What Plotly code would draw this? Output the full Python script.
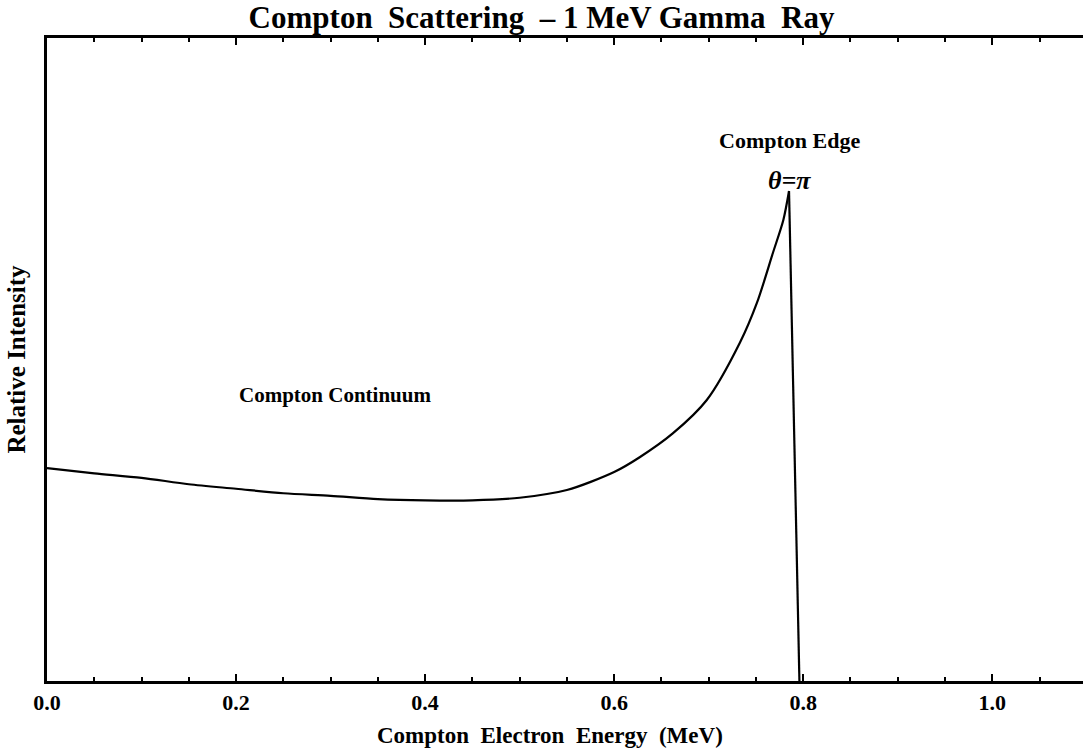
import plotly.graph_objects as go

# Compton electron energy (MeV) and relative intensity
energy = [0.0, 0.05, 0.1, 0.15, 0.2, 0.25, 0.3, 0.35, 0.4, 0.45, 0.5, 0.55,
          0.6, 0.627, 0.662, 0.698, 0.733, 0.751, 0.768, 0.779, 0.785]
intensity = [0.331, 0.323, 0.316, 0.306, 0.299, 0.292, 0.288, 0.283, 0.281, 0.281,
             0.285, 0.297, 0.325, 0.348, 0.385, 0.437, 0.526, 0.588, 0.666, 0.717,
             0.762]

# the Compton edge: sharp drop from the peak to zero
edge_energy = [0.785, 0.796]
edge_intensity = [0.762, 0.0]

tick_vals = [0.0, 0.2, 0.4, 0.6, 0.8, 1.0]
tick_text = ["0.0", "0.2", "0.4", "0.6", "0.8", "1.0"]

serif = "Liberation Serif"
nb = "\u00a0"

fig = go.Figure()

fig.add_trace(go.Scatter(
    x=energy,
    y=intensity,
    mode="lines",
    line=dict(color="black", width=2.2, shape="spline", smoothing=0.8),
    hoverinfo="skip",
    showlegend=False,
))
fig.add_trace(go.Scatter(
    x=edge_energy,
    y=edge_intensity,
    mode="lines",
    line=dict(color="black", width=2.2),
    hoverinfo="skip",
    showlegend=False,
))

# text labels on the plot
fig.add_annotation(x=0.786, y=0.841, text="Compton Edge", showarrow=False,
                   font=dict(family=serif, size=22, color="black", weight="bold"))
fig.add_annotation(x=0.786, y=0.779, text="<i>θ=π</i>", showarrow=False,
                   font=dict(family=serif, size=26, color="black", weight="bold"))
fig.add_annotation(x=0.305, y=0.445, text="Compton Continuum", showarrow=False,
                   font=dict(family=serif, size=21, color="black", weight="bold"))

# x axis title, placed slightly left of the plot centre as in the original
fig.add_annotation(xref="paper", yref="paper", x=0.4855, y=-0.084,
                   xanchor="center", yanchor="middle", showarrow=False,
                   text=f"Compton{nb}{nb}Electron{nb}{nb}Energy{nb}{nb}(MeV)",
                   font=dict(family=serif, size=23, color="black", weight="bold"))

fig.update_layout(
    width=1083,
    height=753,
    margin=dict(l=47, r=0, t=38, b=72),
    plot_bgcolor="white",
    paper_bgcolor="white",
    title=dict(
        text=f"Compton{nb}{nb}Scattering{nb}{nb}– 1 MeV Gamma{nb}{nb}Ray",
        font=dict(family=serif, size=31, color="black", weight="bold"),
        x=0.5, xanchor="center", xref="container",
        y=0.977, yanchor="middle",
    ),
    xaxis=dict(
        range=[0, 1.096],
        automargin=False,
        tickmode="array",
        tickvals=tick_vals,
        ticktext=tick_text,
        ticks="inside",
        ticklen=7,
        tickwidth=2,
        tickcolor="black",
        minor=dict(dtick=0.05, ticks="inside", ticklen=4, tickwidth=2, tickcolor="black"),
        showline=True,
        linecolor="black",
        linewidth=3,
        mirror="allticks",
        showgrid=False,
        zeroline=False,
        tickfont=dict(family=serif, size=22, color="black", weight="bold"),
    ),
    yaxis=dict(
        range=[0, 1],
        automargin=False,
        showticklabels=False,
        ticks="",
        showline=True,
        linecolor="black",
        linewidth=3,
        showgrid=False,
        zeroline=False,
        title=dict(
            text="Relative Intensity",
            font=dict(family=serif, size=25, color="black", weight="bold"),
            standoff=12,
        ),
    ),
)

# drop the browser's default page margin so the figure sits at the top-left corner
fig.write_html("out.html", config={"displayModeBar": False},
               post_script="document.body.style.margin='0';")
